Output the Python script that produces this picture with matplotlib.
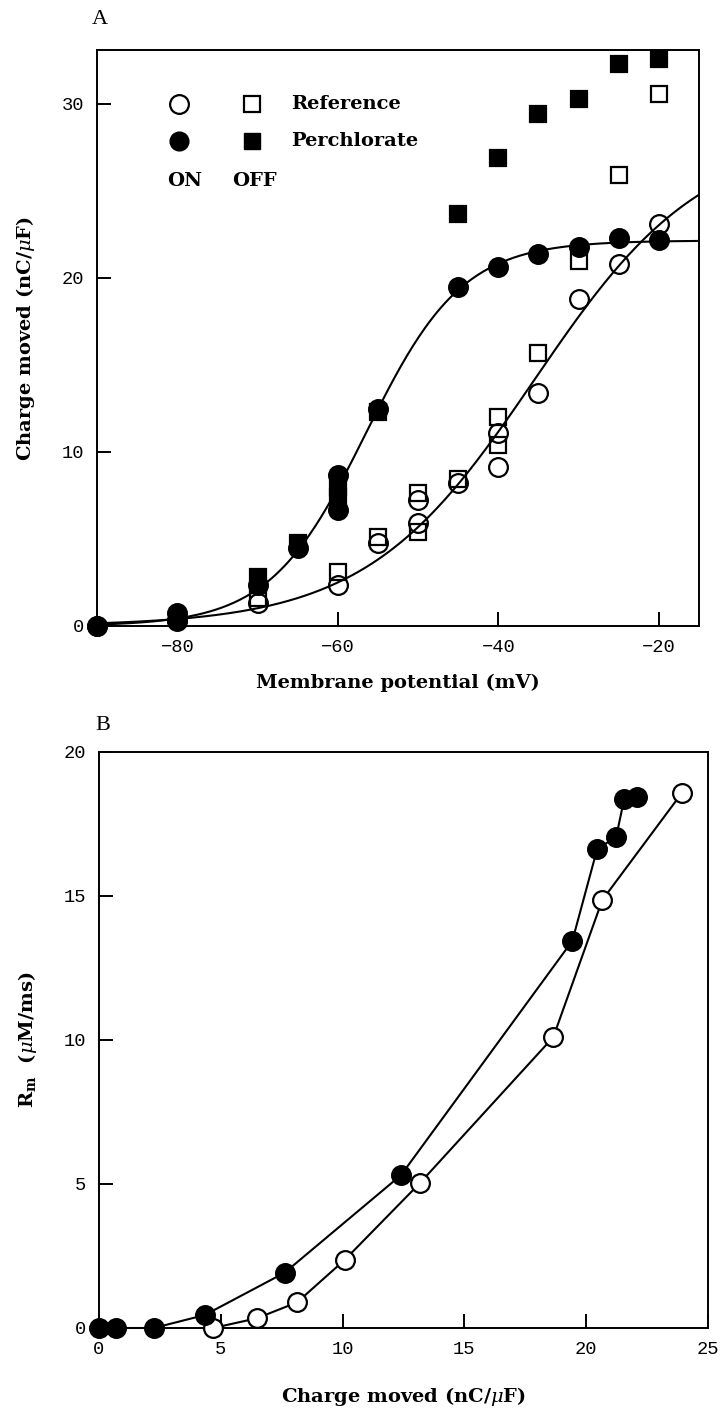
import matplotlib
matplotlib.use("Agg")
import matplotlib.pyplot as plt
import numpy as np

plt.rcParams["mathtext.fontset"] = "dejavuserif"

# ---- panel A: charge moved vs membrane potential (nC/uF, mV)
ref_on_v = [-90, -80, -70, -60, -55, -50, -50, -45, -40, -40, -35, -30, -25, -20]
ref_on_q = [0.0, 0.3, 1.3, 2.36, 4.75, 5.9, 7.24, 8.2, 9.16, 11.1, 13.37, 18.8, 20.8, 23.1]
ref_off_v = [-70, -60, -55, -50, -50, -45, -40, -40, -35, -30, -25, -20]
ref_off_q = [1.59, 3.12, 5.13, 5.42, 7.63, 8.45, 10.4, 12.03, 15.67, 21.0, 25.9, 30.6]
per_on_v = [-90, -80, -80, -70, -65, -60, -60, -55, -45, -40, -35, -30, -25, -20]
per_on_q = [0.0, 0.35, 0.75, 2.36, 4.46, 6.67, 8.68, 12.45, 19.5, 20.65, 21.4, 21.76, 22.28, 22.2]
per_off_v = [-70, -65, -60, -60, -55, -45, -40, -35, -30, -25, -20]
per_off_q = [2.83, 4.75, 7.43, 8.0, 12.3, 23.7, 26.9, 29.4, 30.3, 32.3, 32.6]

# Boltzmann fits (Qmax, V1/2, k)
ref_fit = (28.3, -35.5, 10.5)
per_fit = (22.15, -56.5, 6.0)

# ---- panel B: Rm vs charge moved
b_ref_q = [4.69, 6.49, 8.13, 10.08, 13.16, 18.65, 20.66, 23.93]
b_ref_r = [0.0, 0.34, 0.89, 2.36, 5.02, 10.1, 14.86, 18.58]
b_per_q = [0.0, 0.7, 2.25, 4.34, 7.62, 12.4, 19.43, 20.45, 21.23, 21.56, 22.09]
b_per_r = [0.0, 0.0, 0.0, 0.45, 1.92, 5.31, 13.44, 16.63, 17.05, 18.37, 18.44]


def boltz(v, qmax, vh, k):
    return qmax / (1.0 + np.exp(-(v - vh) / k))


lab_font = dict(family="DejaVu Serif", weight="bold", size=14)
tick_font = "Liberation Mono"

fig = plt.figure(figsize=(7.25, 14.18), dpi=100)
axA = fig.add_axes([97 / 725, 1 - 626 / 1418, 602 / 725, 576 / 1418])
axB = fig.add_axes([99 / 725, 1 - 1328 / 1418, 609 / 725, 576 / 1418])

for ax in (axA, axB):
    for s in ax.spines.values():
        s.set_linewidth(1.4)
    ax.tick_params(direction="in", length=10, width=1.4, top=False, right=False,
                   labelsize=13.5, pad=9)

# panel A
vv = np.linspace(-90, -15, 300)
axA.plot(vv, boltz(vv, *ref_fit), color="black", lw=1.5, zorder=2)
axA.plot(vv, boltz(vv, *per_fit), color="black", lw=1.5, zorder=2)

ms_c, ms_s = 13.5, 11.5
axA.plot(ref_on_v, ref_on_q, "o", ms=ms_c, mfc="none", mec="black", mew=1.6,
         ls="none", clip_on=False, zorder=3)
axA.plot(ref_off_v, ref_off_q, "s", ms=ms_s, mfc="none", mec="black", mew=1.6,
         ls="none", clip_on=False, zorder=3)
axA.plot(per_off_v, per_off_q, "s", ms=ms_s, mfc="black", mec="black", mew=1.6,
         ls="none", clip_on=False, zorder=4)
axA.plot(per_on_v, per_on_q, "o", ms=ms_c, mfc="black", mec="black", mew=1.6,
         ls="none", clip_on=False, zorder=5)

axA.set_xlim(-90, -15)
axA.set_ylim(0, 33.1)
axA.set_xticks([-80, -60, -40, -20])
axA.set_xticklabels(["\u221280", "\u221260", "\u221240", "\u221220"], family=tick_font)
axA.set_yticks([0, 10, 20, 30])
axA.set_yticklabels(["0", "10", "20", "30"], family=tick_font)
axA.set_xlabel("Membrane potential (mV)", fontdict=lab_font, labelpad=13)
axA.set_ylabel("Charge moved (nC/$\\mu$F)", fontdict=lab_font, labelpad=18)

# legend drawn by hand
tr = axA.transAxes
axA.plot([0.136], [0.906], "o", ms=ms_c, mfc="none", mec="black", mew=1.6, transform=tr)
axA.plot([0.257], [0.906], "s", ms=ms_s, mfc="none", mec="black", mew=1.6, transform=tr)
axA.plot([0.136], [0.842], "o", ms=ms_c, mfc="black", mec="black", transform=tr)
axA.plot([0.257], [0.842], "s", ms=ms_s, mfc="black", mec="black", transform=tr)
axA.text(0.322, 0.906, "Reference", transform=tr, va="center", ha="left", **lab_font)
axA.text(0.322, 0.842, "Perchlorate", transform=tr, va="center", ha="left", **lab_font)
axA.text(0.145, 0.772, "ON", transform=tr, va="center", ha="center", **lab_font)
axA.text(0.262, 0.772, "OFF", transform=tr, va="center", ha="center", **lab_font)

fig.text(100 / 725, 1 - 20 / 1418, "A", family="Liberation Serif", size=16,
         ha="center", va="center")

# panel B
axB.plot(b_ref_q, b_ref_r, "-o", color="black", lw=1.5, ms=ms_c, mfc="white",
         mec="black", mew=1.6, clip_on=False, zorder=3)
axB.plot(b_per_q, b_per_r, "-o", color="black", lw=1.5, ms=ms_c, mfc="black",
         mec="black", mew=1.6, clip_on=False, zorder=4)
axB.set_xlim(0, 25)
axB.set_ylim(0, 20)
axB.set_xticks([0, 5, 10, 15, 20, 25])
axB.set_xticklabels(["0", "5", "10", "15", "20", "25"], family=tick_font)
axB.set_yticks([0, 5, 10, 15, 20])
axB.set_yticklabels(["0", "5", "10", "15", "20"], family=tick_font)
axB.set_xlabel("Charge moved (nC/$\\mu$F)", fontdict=lab_font, labelpad=20)
axB.set_ylabel("R$_{\\mathbf{m}}$  ($\\mu$M/ms)", fontdict=lab_font, labelpad=18)

fig.text(103 / 725, 1 - 725 / 1418, "B", family="Liberation Serif", size=16,
         ha="center", va="center")

plt.savefig("out.png", dpi=100)
